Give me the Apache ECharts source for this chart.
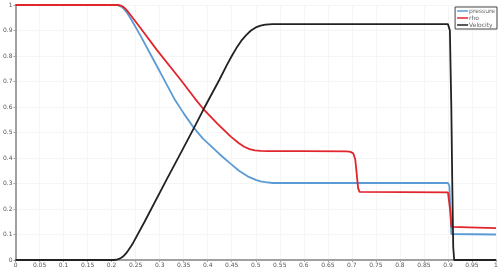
<!DOCTYPE html>
<html>
<head>
<meta charset="utf-8">
<script src="https://cdn.jsdelivr.net/npm/echarts@6/dist/echarts.min.js"></script>
<style>
  html, body { margin: 0; padding: 0; background: #fff; }
  #chart { width: 502px; height: 270px; }
</style>
</head>
<body>
<div id="chart"></div>
<script>
// values (x position, value)
const pressureX = [0, 0.21, 0.214, 0.219, 0.225, 0.232, 0.24, 0.26, 0.28, 0.3, 0.332, 0.35, 0.372, 0.39, 0.413, 0.43, 0.448, 0.465, 0.483, 0.5, 0.51, 0.52, 0.535, 0.9, 0.903, 0.905, 0.907, 0.91, 1];
const pressureY = [1, 1, 0.999, 0.995, 0.986, 0.97, 0.946, 0.88, 0.81, 0.74, 0.627, 0.575, 0.516, 0.476, 0.436, 0.406, 0.377, 0.35, 0.328, 0.314, 0.308, 0.305, 0.302, 0.302, 0.29, 0.2, 0.102, 0.1, 0.1];

const rhoX = [0, 0.214, 0.219, 0.224, 0.23, 0.241, 0.26, 0.294, 0.344, 0.373, 0.391, 0.42, 0.448, 0.465, 0.476, 0.487, 0.498, 0.51, 0.525, 0.6, 0.69, 0.697, 0.703, 0.707, 0.71, 0.713, 0.716, 0.72, 0.9, 0.902, 0.905, 0.907, 0.91, 1];
const rhoY = [1, 1, 0.998, 0.993, 0.983, 0.957, 0.91, 0.824, 0.706, 0.634, 0.592, 0.535, 0.484, 0.458, 0.444, 0.435, 0.43, 0.428, 0.427, 0.427, 0.426, 0.424, 0.418, 0.395, 0.34, 0.282, 0.267, 0.265, 0.265, 0.26, 0.19, 0.13, 0.125, 0.125];

const velocityX = [0, 0.205, 0.21, 0.215, 0.22, 0.225, 0.23, 0.234, 0.24, 0.245, 0.268, 0.313, 0.344, 0.372, 0.391, 0.424, 0.44, 0.45, 0.46, 0.47, 0.48, 0.49, 0.5, 0.51, 0.52, 0.535, 0.9, 0.904, 0.907, 0.909, 0.911, 0.913, 1];
const velocityY = [0, 0, 0.001, 0.004, 0.009, 0.016, 0.026, 0.036, 0.053, 0.068, 0.148, 0.31, 0.42, 0.52, 0.59, 0.706, 0.765, 0.8, 0.832, 0.86, 0.882, 0.9, 0.912, 0.919, 0.923, 0.925, 0.925, 0.9, 0.6, 0.3, 0.05, 0, 0];

const seriesNames = ['pressure', 'rho', 'Velocity'];
const seriesColors = ['#5b9bd5', '#e0262c', '#222222'];

const zip = (xs, ys) => xs.map((x, i) => [x, ys[i]]);
const seriesData = [zip(pressureX, pressureY), zip(rhoX, rhoY), zip(velocityX, velocityY)];

const font = 'DejaVu Sans, sans-serif';
const axisGrey = '#a0a0a0';
const labelGrey = '#555';

const chart = echarts.init(document.getElementById('chart'), null, { renderer: 'canvas' });
chart.setOption({
  backgroundColor: '#fff',
  animation: false,
  grid: { left: 14, right: 6, top: 5, bottom: 10, containLabel: false },
  legend: {
    orient: 'vertical',
    right: 5, top: 7,
    data: seriesNames,
    icon: 'rect',
    itemWidth: 11, itemHeight: 1.5,
    itemGap: 1,
    padding: [1, 2, 1, 2],
    borderColor: '#444', borderWidth: 1,
    textStyle: { fontSize: 6, color: '#666', fontFamily: font, padding: [0, 0, 0, -4] },
  },
  xAxis: {
    type: 'value', min: 0, max: 1, interval: 0.05,
    axisLine: { lineStyle: { color: axisGrey, width: 2 } },
    axisTick: { show: true, length: 2, lineStyle: { color: axisGrey } },
    axisLabel: { fontSize: 6, color: labelGrey, fontFamily: font, margin: 2 },
    splitLine: { show: true, lineStyle: { color: '#f5f5f5', width: 1 } },
  },
  yAxis: {
    type: 'value', min: 0, max: 1, interval: 0.1,
    axisLine: { show: true, lineStyle: { color: axisGrey, width: 2 } },
    axisTick: { show: true, length: 2, lineStyle: { color: axisGrey } },
    axisLabel: { fontSize: 6, color: labelGrey, fontFamily: font, margin: 3 },
    splitLine: { show: true, lineStyle: { color: '#f5f5f5', width: 1 } },
  },
  series: seriesNames.map((name, i) => ({
    name, type: 'line',
    data: seriesData[i],
    symbol: 'none',
    smooth: false,
    color: seriesColors[i],
    lineStyle: { color: seriesColors[i], width: 1.8 },
    z: i === 2 ? 3 : 2,
  })),
});
</script>
</body>
</html>
